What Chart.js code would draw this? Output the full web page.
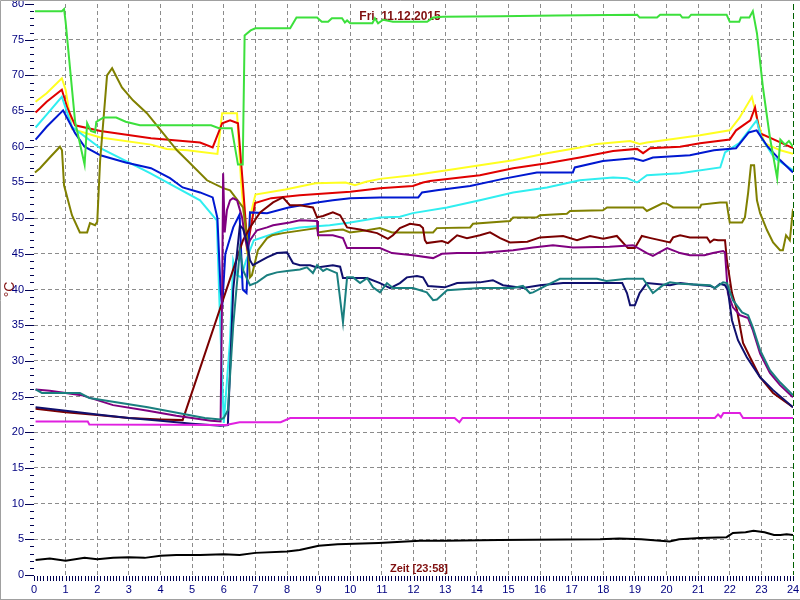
<!DOCTYPE html>
<html>
<head>
<meta charset="utf-8">
<script src="https://cdn.jsdelivr.net/npm/chart.js@4.4.0/dist/chart.umd.min.js"></script>
<style>
  html, body { margin: 0; padding: 0; background: #fff; }
  #chart { display: block; }
</style>
</head>
<body>
<canvas id="chart" width="800" height="600"></canvas>
<script>
// Temperaturverlauf 11.12.2015 - Stunden 0..24, Werte in °C
const titel = 'Fri. 11.12.2015';
const zeitText = 'Zeit [23:58]';
const einheit = '°C';
const xTicks = [0,1,2,3,4,5,6,7,8,9,10,11,12,13,14,15,16,17,18,19,20,21,22,23,24];
const yTicks = [0,5,10,15,20,25,30,35,40,45,50,55,60,65,70,75,80];

// [stunde, wert]
const gruen = [[0.03,79],[0.88,79],[0.95,79.3],[1.0,77.5],[1.3,63.5],[1.6,57.5],[1.68,63.3],[1.8,62.2],[1.93,62],[1.97,63.5],[2.2,64.1],[2.6,64.1],[2.9,63.5],[3.35,63],[5.6,63],[5.85,62.6],[6.25,62.6],[6.45,57.5],[6.6,57.5],[6.66,75.6],[6.85,76.3],[7.0,76.6],[8.1,76.6],[8.3,78.1],[8.95,78.1],[9.1,77.5],[9.3,77.5],[9.42,78],[9.74,78],[9.83,77.4],[9.9,77.7],[10.0,77.3],[10.7,77.3],[10.78,78],[10.88,77.3],[11.04,77.8],[11.35,77.5],[12.43,77.5],[12.62,78.1],[12.93,78.2],[14.74,78.3],[16.5,78.4],[19.07,78.5],[19.15,78.1],[19.7,78.1],[19.8,78.5],[20.43,78.5],[20.5,78.1],[20.7,78.1],[20.78,78.5],[21.9,78.5],[22.0,77.5],[22.3,77.5],[22.35,78.1],[22.62,78.1],[22.73,79],[22.86,75.9],[23.05,68.3],[23.27,61.3],[23.5,55.6],[23.6,61],[23.75,60.3],[23.87,60.8],[24,60]];
const gelb = [[0.05,66.3],[0.4,67.5],[0.88,69.6],[1.0,68],[1.2,62.5],[2.1,61.3],[3.7,60.3],[4.2,59.7],[4.85,59.5],[5.8,59],[5.95,64.7],[6.42,64.7],[6.55,55],[6.72,46],[6.85,50.5],[7.0,53.3],[7.95,54],[8.9,54.9],[9.85,55],[10.15,54.6],[10.5,55.1],[10.94,55.5],[11.98,56],[13.06,56.7],[14.1,57.4],[15.15,58.1],[16.22,59.1],[17.26,59.9],[17.8,60.4],[18.85,60.8],[19.15,60.4],[19.38,60.6],[20.21,61.1],[21.06,61.6],[22.0,62.3],[22.3,64],[22.7,67],[22.86,64],[23.1,60.5],[23.6,59.5],[24,59]];
const rot = [[0.05,64.8],[0.4,66.3],[0.88,68],[1.05,65.5],[1.3,63],[2.1,62.2],[3.7,61.2],[5.25,60.6],[5.65,59.9],[5.95,63.3],[6.2,63.7],[6.45,63.3],[6.6,55],[6.75,46],[6.99,52.1],[7.5,52.8],[8.4,53.2],[10.0,53.7],[10.94,54.2],[11.98,54.5],[12.3,55],[12.52,55.2],[14.1,56],[15.15,57],[16.22,57.7],[17.26,58.5],[18.31,59.4],[19.07,59.7],[19.26,59.1],[19.48,59.8],[20.43,60],[21.06,60.5],[22.0,61],[22.2,62.3],[22.65,63.7],[22.8,65.5],[22.95,61.9],[23.3,61.2],[24,59.8]];
const cyan = [[0.05,62.7],[0.4,64.5],[0.88,67],[1.2,62.8],[2.1,59.8],[3.67,56.3],[5.25,52.5],[5.78,49.7],[5.85,40],[6.0,21.3],[6.2,33],[6.3,44],[6.42,42],[6.55,41.7],[6.7,44],[6.95,46.9],[7.9,48.3],[8.4,48.7],[9.35,49],[10.0,49.4],[10.94,50.1],[11.57,50.2],[11.98,50.7],[13.06,51.5],[14.1,52.5],[15.15,53.6],[16.22,54.3],[17.26,55.3],[18.31,55.7],[18.75,55.6],[19.07,55],[19.38,56],[20.43,56.3],[21.7,57.1],[21.85,59.2],[22.3,60.5],[22.85,63.7],[23.0,61.3],[23.4,58.5],[24,56.7]];
const blau = [[0.05,61],[0.4,62.8],[0.92,65.1],[1.3,61.9],[1.6,60],[2.1,58.8],[2.9,57.8],[3.7,57],[4.3,55.6],[4.7,54.3],[5.25,53.6],[5.65,52.9],[5.8,50],[5.9,40],[5.95,37.5],[6.05,45],[6.3,48.7],[6.5,50.5],[6.6,40],[6.72,39.5],[6.83,50.8],[7.37,50.7],[8.05,51.5],[8.95,52.2],[9.45,52.5],[10.0,52.8],[10.94,52.9],[12.15,52.9],[12.27,53.6],[12.74,53.9],[13.79,54.5],[14.83,55.5],[15.9,56.4],[17.04,56.4],[17.1,57.1],[17.99,58],[18.94,58.4],[19.26,58],[19.57,58.5],[20.74,58.8],[21.5,59.5],[22.2,59.8],[22.6,62],[22.85,62.3],[23.2,60],[23.6,58.1],[24,56.4]];
const oliv = [[0.03,56.4],[0.19,57],[0.5,58.5],[0.82,60],[0.885,59.5],[0.95,54.6],[1.2,50.4],[1.45,48],[1.68,48],[1.77,49.3],[1.93,49],[2.0,49.5],[2.09,58],[2.31,70],[2.47,71],[2.78,68.3],[3.13,66.5],[3.57,64.7],[4.08,61.9],[4.52,59.5],[4.84,58.1],[5.47,55.3],[5.98,54.2],[6.2,53.9],[6.61,51.5],[6.74,47.3],[6.83,41.7],[6.89,42],[7.08,45.5],[7.37,47.2],[7.53,47.6],[7.87,47.9],[8.95,48.6],[8.98,48],[9.45,48.3],[9.77,48.4],[9.99,48],[10.53,48.3],[10.94,48.6],[11.32,48],[12.62,48],[12.74,48.6],[13.79,48.7],[13.88,49.2],[15.05,49.6],[15.15,50.1],[15.9,50.1],[16.0,50.4],[16.85,50.6],[16.95,51],[17.99,51.1],[18.12,51.5],[19.26,51.5],[19.38,51],[19.89,52.1],[20.02,52],[20.21,51.5],[21.06,51.5],[21.1,51.9],[21.69,52.2],[21.9,52.2],[22.0,49.4],[22.39,49.4],[22.48,50.1],[22.58,53.5],[22.67,57.4],[22.77,57.4],[22.86,52.5],[22.96,50.7],[23.18,48.3],[23.37,46.6],[23.59,45.5],[23.68,45.5],[23.78,47.6],[23.9,46.9],[24,51.3]];
const braun = [[0.05,23.3],[1,22.8],[2,22.4],[3,22],[4,21.8],[4.7,21.7],[6.61,46.9],[6.83,48.7],[7.15,50.8],[7.56,52.2],[7.87,52.9],[8.09,51.8],[8.41,51.8],[8.82,51.5],[8.95,50.1],[9.14,50.3],[9.45,50.8],[9.68,50.4],[9.9,48.7],[10.31,48.4],[10.85,47.9],[11.19,47.1],[11.35,47.6],[11.57,48.6],[11.89,49.2],[12.2,49],[12.3,48.6],[12.36,46.9],[12.42,46.5],[12.9,46.8],[13.09,46.5],[13.38,47.6],[13.69,47.2],[14.1,47.6],[14.42,48],[14.74,47.2],[15.05,46.6],[15.6,46.7],[16.0,47.3],[16.73,47.5],[17.17,46.9],[17.58,47.5],[18.0,47.1],[18.43,47.5],[18.78,45.8],[19.0,45.8],[19.22,47.5],[19.5,47.2],[20.11,46.6],[20.21,47.3],[20.43,47.6],[20.74,47.3],[21.28,47.3],[21.38,46.6],[21.5,47],[21.63,46.9],[21.85,46.9],[21.91,44.1],[22.07,39.5],[22.23,37.1],[22.42,32.5],[22.64,30.5],[22.96,27.7],[23.37,25.5],[24,23.5]];
const lila = [[0.05,26],[0.5,25.8],[1.5,25.2],[2.5,23.8],[3.6,23],[4.5,22.3],[5.6,21.6],[5.9,21.5],[5.95,40],[5.98,56.3],[6.03,48],[6.1,51.1],[6.2,52.5],[6.29,52.8],[6.42,52.5],[6.58,50.1],[6.67,47.3],[6.74,45.8],[6.83,46.9],[7.05,48.3],[7.37,48.7],[7.56,49],[8.09,49.4],[8.41,49.7],[8.95,49.6],[8.98,47.6],[9.45,47.6],[9.77,47.2],[9.9,45.8],[10.53,45.8],[10.94,45.8],[11.32,45.1],[11.98,44.8],[12.62,44.4],[12.9,45],[13.38,45.1],[14.1,45.1],[15.15,45.5],[15.78,45.9],[16.41,46.2],[17.04,45.9],[18.2,46],[18.94,46.2],[19.38,45.1],[19.57,44.7],[20.02,45.8],[20.43,45.1],[20.74,44.8],[21.2,44.8],[21.47,45.1],[21.79,45.4],[21.85,45.2],[21.94,39.5],[22.1,37.5],[22.32,36.4],[22.58,36],[22.73,34.3],[22.96,31],[23.27,28.3],[23.59,26.6],[24,24.9]];
const marine = [[0.05,23.5],[1,23],[2,22.5],[3,22],[4,21.6],[5,21.2],[5.9,20.9],[6.13,21],[6.3,40],[6.51,49],[6.61,48.5],[6.74,46.5],[6.83,44.1],[6.92,43.4],[7.08,43.8],[7.37,44.5],[7.68,45.1],[8.0,45.2],[8.09,44.5],[8.19,43.7],[8.41,43.4],[8.73,43.4],[8.95,43.1],[9.45,43.4],[9.68,43.2],[9.77,41.6],[10.53,41.6],[10.94,40.9],[11.26,40.2],[11.57,40.9],[11.79,41.7],[12.11,41.9],[12.3,41.7],[12.46,40.5],[12.99,40.3],[13.38,40.9],[14.1,41],[14.51,41.3],[14.83,40.6],[15.46,40.2],[16.0,40.6],[16.73,40.9],[18.6,40.9],[18.75,39.5],[18.85,37.8],[19.0,37.8],[19.15,39.5],[19.38,40.9],[20.11,40.6],[20.43,40.9],[20.84,40.7],[21.38,40.5],[21.53,40.2],[21.69,40.8],[21.85,40.6],[21.94,39.9],[22.07,35.7],[22.26,32.9],[22.54,30.5],[22.96,27.7],[23.37,25.9],[24,23.5]];
const petrol = [[0.05,26],[0.25,25.5],[1.45,25.5],[1.75,24.8],[3.6,23.5],[5.4,22],[5.9,21.8],[6.0,22],[6.13,23.1],[6.3,35],[6.51,45.5],[6.61,42.7],[6.83,40.6],[7.05,41],[7.37,42],[7.68,42.4],[8.0,42.6],[8.41,42.8],[8.63,43.1],[8.82,42.3],[8.95,43.4],[9.14,42.6],[9.26,42.9],[9.58,42.3],[9.77,35.4],[9.9,41.7],[10.09,41.7],[10.31,40.9],[10.53,41.6],[10.72,40.3],[10.94,39.6],[11.16,40.9],[11.35,40.2],[11.98,40.2],[12.42,39.6],[12.62,38.5],[12.74,38.6],[13.06,39.9],[14.1,40.2],[15.15,40.2],[15.46,40.5],[15.68,39.5],[15.78,39.6],[16.22,40.6],[16.63,41.5],[17.8,41.5],[18.1,41.2],[18.75,41.5],[19.26,41.5],[19.57,39.5],[19.89,40.6],[20.11,41],[20.43,40.8],[21.38,40.6],[21.53,40.2],[21.79,41],[21.91,40.9],[22.1,38.5],[22.39,36.8],[22.58,36.4],[22.73,34.7],[22.96,31.5],[23.27,28.7],[23.59,27],[24,25.2]];
const magenta = [[0.05,21.5],[1.7,21.5],[1.75,21.1],[6.1,21],[6.15,21.1],[6.5,21.4],[7.8,21.4],[8.1,22],[13.3,22],[13.45,21.4],[13.55,22],[21.53,22],[21.63,22.5],[21.72,22.1],[21.8,22.7],[22.32,22.7],[22.42,22],[24,22]];
const schwarz = [[0.05,2.1],[0.5,2.3],[1,2],[1.6,2.4],[2,2.2],[2.5,2.4],[3,2.5],[3.5,2.4],[4,2.7],[4.5,2.8],[5.25,2.8],[6,2.9],[6.5,2.8],[7,3.1],[8,3.3],[8.4,3.5],[9,4.1],[9.6,4.3],[10.9,4.5],[12.2,4.8],[13,4.8],[14.7,4.9],[17.9,5],[18.5,5.1],[19.2,5],[19.8,4.8],[20.1,4.7],[20.4,5],[21.06,5.2],[21.9,5.3],[22.1,5.9],[22.5,6],[22.75,6.2],[23.1,6],[23.4,5.6],[23.6,5.6],[23.8,5.7],[24,5.6]];

const serien = [
  [schwarz, '#000000'],
  [magenta, '#e020e0'],
  [gruen, '#3ce03c'],
  [petrol, '#1a7f7f'],
  [marine, '#10106e'],
  [lila, '#800080'],
  [braun, '#7a0000'],
  [oliv, '#808000'],
  [blau, '#0018d0'],
  [cyan, '#30eef0'],
  [rot, '#e00000'],
  [gelb, '#ffff20']
];

const FONT = 'Arial, "Liberation Sans", sans-serif';
const textFarbe = '#801010';

const deko = {
  id: 'deko',
  beforeDatasetsDraw(chart) {
    const {ctx, chartArea: a, scales: {x, y}} = chart;
    ctx.save();
    // Nebenteilstriche
    ctx.strokeStyle = '#000050';
    ctx.lineWidth = 1;
    ctx.beginPath();
    for (let i = 0; i <= 80; i++) {
      const py = Math.round(y.getPixelForValue(i)) + 0.5;
      const len = i % 5 === 0 ? 9 : 4;
      ctx.moveTo(a.left - len, py); ctx.lineTo(a.left, py);
    }
    for (let i = 0; i <= 240; i++) {
      const px = Math.round(x.getPixelForValue(i / 10)) + 0.5;
      ctx.moveTo(px, a.bottom + 1); ctx.lineTo(px, a.bottom + 6);
    }
    ctx.stroke();
    // aktuelle Zeit
    ctx.strokeStyle = '#006000';
    ctx.setLineDash([6, 3]);
    ctx.beginPath();
    const pz = Math.round(x.getPixelForValue(24)) + 0.5;
    ctx.moveTo(pz, a.top); ctx.lineTo(pz, a.bottom);
    ctx.stroke();
    ctx.setLineDash([]);
    ctx.fillStyle = textFarbe;
    ctx.textAlign = 'center';
    ctx.textBaseline = 'middle';
    ctx.font = 'bold 12px ' + FONT;
    ctx.fillText(titel, 400, 17);
    ctx.font = 'bold 11px ' + FONT;
    ctx.fillText(zeitText, 419, 569);
    ctx.restore();
  },
  afterDraw(chart) {
    const {ctx, width, height} = chart;
    ctx.save();
    ctx.strokeStyle = '#a0a0a0';
    ctx.lineWidth = 1;
    ctx.beginPath();
    ctx.moveTo(0.5, height); ctx.lineTo(0.5, 0.5); ctx.lineTo(width, 0.5);
    ctx.moveTo(0, height - 0.5); ctx.lineTo(width, height - 0.5);
    ctx.stroke();
    ctx.restore();
  }
};

new Chart(document.getElementById('chart').getContext('2d'), {
  type: 'line',
  data: {
    datasets: serien.map(([d, c]) => ({
      data: d.map(p => ({x: p[0], y: p[1]})),
      borderColor: c,
      borderWidth: 2,
      pointRadius: 0,
      fill: false,
      tension: 0
    }))
  },
  options: {
    responsive: false,
    animation: false,
    devicePixelRatio: 1,
    layout: { padding: { left: 0, right: 7, top: 4, bottom: 0 } },
    plugins: { legend: { display: false }, tooltip: { enabled: false } },
    scales: {
      x: {
        type: 'linear', min: 0, max: 24,
        afterBuildTicks: s => { s.ticks = xTicks.map(v => ({value: v})); },
        afterFit: s => { s.height = 25; s.paddingLeft = 0; s.paddingRight = 0; },
        grid: {
          drawTicks: false, lineWidth: 1,
          color: c => (c.tick && c.tick.value > 0 && c.tick.value < 24) ? '#8c8c8c' : 'rgba(0,0,0,0)'
        },
        border: { display: false, dash: [4, 3] },
        ticks: { color: '#000080', font: { size: 11, family: FONT }, padding: 8, maxRotation: 0, autoSkip: false }
      },
      y: {
        min: 0, max: 80,
        afterBuildTicks: s => { s.ticks = yTicks.map(v => ({value: v})); },
        afterFit: s => { s.width = 34; s.paddingTop = 0; s.paddingBottom = 0; },
        grid: {
          drawTicks: false, lineWidth: 1,
          color: c => (c.tick && c.tick.value > 0 && c.tick.value < 80) ? '#8c8c8c' : 'rgba(0,0,0,0)'
        },
        border: { display: false, dash: [4, 3] },
        ticks: { color: '#000080', font: { size: 11, family: FONT }, padding: 10 },
        title: { display: true, text: einheit, color: textFarbe, font: { size: 14, family: FONT }, padding: { top: 2, bottom: 0 } }
      }
    }
  },
  plugins: [deko]
});
</script>
</body>
</html>
